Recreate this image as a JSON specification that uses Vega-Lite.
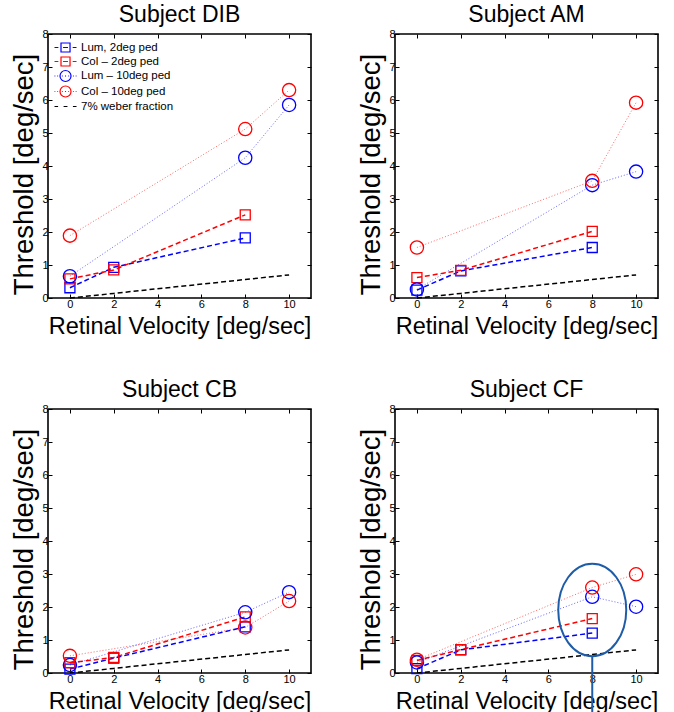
{
"$schema": "https://vega.github.io/schema/vega-lite/v6.json",
"background": "white",
"padding": {"left": 9, "top": 3, "right": 0, "bottom": 0},
"columns": 2,
"spacing": {"column": 84, "row": 111},
"bounds": "flush",
"config": {
  "font": "Liberation Sans",
  "view": {"stroke": "black", "strokeWidth": 1.6},
  "axis": {"grid": false, "domain": false, "tickColor": "black", "tickSize": -4, "tickWidth": 1, "labelFontSize": 11, "labelColor": "black", "labelFont": "Liberation Sans", "titleFont": "Liberation Sans", "titleFontWeight": "normal", "titleColor": "black", "labelPadding": 4},
  "title": {"fontSize": 23, "fontWeight": "normal", "font": "Liberation Sans", "color": "black", "offset": 1},
  "legend": {"labelFontSize": 11.5, "labelColor": "black", "labelFont": "Liberation Sans"}
},
"datasets": {
  "pts": [
    {"subject": "DIB", "series": "Lum, 2deg ped", "v": 0, "t": 0.31},
    {"subject": "DIB", "series": "Lum, 2deg ped", "v": 2, "t": 0.93},
    {"subject": "DIB", "series": "Lum, 2deg ped", "v": 8, "t": 1.82},
    {"subject": "DIB", "series": "Col – 2deg ped", "v": 0, "t": 0.58},
    {"subject": "DIB", "series": "Col – 2deg ped", "v": 2, "t": 0.85},
    {"subject": "DIB", "series": "Col – 2deg ped", "v": 8, "t": 2.52},
    {"subject": "DIB", "series": "Lum – 10deg ped", "v": 0, "t": 0.66},
    {"subject": "DIB", "series": "Lum – 10deg ped", "v": 8, "t": 4.25},
    {"subject": "DIB", "series": "Lum – 10deg ped", "v": 10, "t": 5.85},
    {"subject": "DIB", "series": "Col – 10deg ped", "v": 0, "t": 1.89},
    {"subject": "DIB", "series": "Col – 10deg ped", "v": 8, "t": 5.12},
    {"subject": "DIB", "series": "Col – 10deg ped", "v": 10, "t": 6.3},
    {"subject": "DIB", "series": "7% weber fraction", "v": 0, "t": 0},
    {"subject": "DIB", "series": "7% weber fraction", "v": 2, "t": 0.14},
    {"subject": "DIB", "series": "7% weber fraction", "v": 8, "t": 0.56},
    {"subject": "DIB", "series": "7% weber fraction", "v": 10, "t": 0.7},
    {"subject": "AM", "series": "Lum, 2deg ped", "v": 0, "t": 0.24},
    {"subject": "AM", "series": "Lum, 2deg ped", "v": 2, "t": 0.82},
    {"subject": "AM", "series": "Lum, 2deg ped", "v": 8, "t": 1.53},
    {"subject": "AM", "series": "Col – 2deg ped", "v": 0, "t": 0.62},
    {"subject": "AM", "series": "Col – 2deg ped", "v": 2, "t": 0.84},
    {"subject": "AM", "series": "Col – 2deg ped", "v": 8, "t": 2.02},
    {"subject": "AM", "series": "Lum – 10deg ped", "v": 0, "t": 0.26},
    {"subject": "AM", "series": "Lum – 10deg ped", "v": 8, "t": 3.42},
    {"subject": "AM", "series": "Lum – 10deg ped", "v": 10, "t": 3.83},
    {"subject": "AM", "series": "Col – 10deg ped", "v": 0, "t": 1.53},
    {"subject": "AM", "series": "Col – 10deg ped", "v": 8, "t": 3.55},
    {"subject": "AM", "series": "Col – 10deg ped", "v": 10, "t": 5.92},
    {"subject": "AM", "series": "7% weber fraction", "v": 0, "t": 0},
    {"subject": "AM", "series": "7% weber fraction", "v": 2, "t": 0.14},
    {"subject": "AM", "series": "7% weber fraction", "v": 8, "t": 0.56},
    {"subject": "AM", "series": "7% weber fraction", "v": 10, "t": 0.7},
    {"subject": "CB", "series": "Lum, 2deg ped", "v": 0, "t": 0.12},
    {"subject": "CB", "series": "Lum, 2deg ped", "v": 2, "t": 0.45},
    {"subject": "CB", "series": "Lum, 2deg ped", "v": 8, "t": 1.4},
    {"subject": "CB", "series": "Col – 2deg ped", "v": 0, "t": 0.31},
    {"subject": "CB", "series": "Col – 2deg ped", "v": 2, "t": 0.47},
    {"subject": "CB", "series": "Col – 2deg ped", "v": 8, "t": 1.7},
    {"subject": "CB", "series": "Lum – 10deg ped", "v": 0, "t": 0.24},
    {"subject": "CB", "series": "Lum – 10deg ped", "v": 8, "t": 1.84},
    {"subject": "CB", "series": "Lum – 10deg ped", "v": 10, "t": 2.45},
    {"subject": "CB", "series": "Col – 10deg ped", "v": 0, "t": 0.52},
    {"subject": "CB", "series": "Col – 10deg ped", "v": 8, "t": 1.38},
    {"subject": "CB", "series": "Col – 10deg ped", "v": 10, "t": 2.18},
    {"subject": "CB", "series": "7% weber fraction", "v": 0, "t": 0},
    {"subject": "CB", "series": "7% weber fraction", "v": 2, "t": 0.14},
    {"subject": "CB", "series": "7% weber fraction", "v": 8, "t": 0.56},
    {"subject": "CB", "series": "7% weber fraction", "v": 10, "t": 0.7},
    {"subject": "CF", "series": "Lum, 2deg ped", "v": 0, "t": 0.13},
    {"subject": "CF", "series": "Lum, 2deg ped", "v": 2, "t": 0.7},
    {"subject": "CF", "series": "Lum, 2deg ped", "v": 8, "t": 1.21},
    {"subject": "CF", "series": "Col – 2deg ped", "v": 0, "t": 0.38},
    {"subject": "CF", "series": "Col – 2deg ped", "v": 2, "t": 0.71},
    {"subject": "CF", "series": "Col – 2deg ped", "v": 8, "t": 1.65},
    {"subject": "CF", "series": "Lum – 10deg ped", "v": 0, "t": 0.32},
    {"subject": "CF", "series": "Lum – 10deg ped", "v": 8, "t": 2.31},
    {"subject": "CF", "series": "Lum – 10deg ped", "v": 10, "t": 2.01},
    {"subject": "CF", "series": "Col – 10deg ped", "v": 0, "t": 0.4},
    {"subject": "CF", "series": "Col – 10deg ped", "v": 8, "t": 2.59},
    {"subject": "CF", "series": "Col – 10deg ped", "v": 10, "t": 2.99},
    {"subject": "CF", "series": "7% weber fraction", "v": 0, "t": 0},
    {"subject": "CF", "series": "7% weber fraction", "v": 2, "t": 0.14},
    {"subject": "CF", "series": "7% weber fraction", "v": 8, "t": 0.56},
    {"subject": "CF", "series": "7% weber fraction", "v": 10, "t": 0.7}
  ],
  "note": [{"v": 8, "t": 1.91, "t2": 0.52, "t3": -1.4}]
},
"concat": [
  {
    "width": 263, "height": 264,
    "title": "Subject DIB",
    "data": {"name": "pts"},
    "resolve": {"axis": {"x": "independent", "y": "independent"}},
    "layer": [
      {"transform": [{"filter": "datum.subject === 'DIB' && test(/2deg|weber/, datum.series)"}],
       "mark": {"type": "line", "strokeDash": [5, 3], "strokeWidth": 1.5, "clip": false},
       "encoding": {
         "x": {"field": "v", "type": "quantitative", "scale": {"domain": [-1, 11], "nice": false, "zero": false}, "axis": {"values": [0, 2, 4, 6, 8, 10], "title": "Retinal Velocity [deg/sec]", "titleFontSize": 23.5, "titleBaseline": "alphabetic", "titleY": 35}},
         "y": {"field": "t", "type": "quantitative", "scale": {"domain": [0, 8], "nice": false, "zero": false}, "axis": {"values": [0, 1, 2, 3, 4, 5, 6, 7, 8], "title": "Threshold [deg/sec]", "titleFontSize": 27.5, "titleBaseline": "alphabetic", "titleX": -16, "titleY": 140}},
         "color": {"field": "series", "type": "nominal", "scale": {"domain": ["Lum – 10deg ped", "Col – 10deg ped", "Lum, 2deg ped", "Col – 2deg ped", "7% weber fraction"], "range": ["#0000ff", "#ff0000", "#0000ff", "#ff0000", "#000000"]}, "legend": null}}},
      {"transform": [{"filter": "datum.subject === 'DIB' && test(/10deg/, datum.series)"}],
       "mark": {"type": "line", "strokeDash": [1, 2], "strokeWidth": 1, "opacity": 0.6, "clip": false},
       "encoding": {
         "x": {"field": "v", "type": "quantitative", "scale": {"domain": [-1, 11], "nice": false, "zero": false}, "axis": null},
         "y": {"field": "t", "type": "quantitative", "scale": {"domain": [0, 8], "nice": false, "zero": false}, "axis": null},
         "color": {"field": "series", "type": "nominal", "scale": {"domain": ["Lum – 10deg ped", "Col – 10deg ped", "Lum, 2deg ped", "Col – 2deg ped", "7% weber fraction"], "range": ["#0000ff", "#ff0000", "#0000ff", "#ff0000", "#000000"]}, "legend": null}}},
      {"transform": [{"filter": "datum.subject === 'DIB' && test(/2deg/, datum.series)"}],
       "mark": {"type": "point", "shape": "square", "size": 100, "filled": false, "strokeWidth": 1.3, "opacity": 1, "clip": false},
       "encoding": {
         "x": {"field": "v", "type": "quantitative", "scale": {"domain": [-1, 11], "nice": false, "zero": false}, "axis": null},
         "y": {"field": "t", "type": "quantitative", "scale": {"domain": [0, 8], "nice": false, "zero": false}, "axis": null},
         "color": {"field": "series", "type": "nominal", "scale": {"domain": ["Lum – 10deg ped", "Col – 10deg ped", "Lum, 2deg ped", "Col – 2deg ped", "7% weber fraction"], "range": ["#0000ff", "#ff0000", "#0000ff", "#ff0000", "#000000"]}, "legend": null}}},
      {"transform": [{"filter": "datum.subject === 'DIB' && test(/10deg/, datum.series)"}],
       "mark": {"type": "point", "shape": "circle", "size": 175, "filled": false, "strokeWidth": 1.3, "opacity": 1, "clip": false},
       "encoding": {
         "x": {"field": "v", "type": "quantitative", "scale": {"domain": [-1, 11], "nice": false, "zero": false}, "axis": {"orient": "top", "values": [0, 2, 4, 6, 8, 10], "labels": false, "title": null}},
         "y": {"field": "t", "type": "quantitative", "scale": {"domain": [0, 8], "nice": false, "zero": false}, "axis": {"orient": "right", "values": [0, 1, 2, 3, 4, 5, 6, 7, 8], "labels": false, "title": null}},
         "color": {"field": "series", "type": "nominal", "scale": {"domain": ["Lum – 10deg ped", "Col – 10deg ped", "Lum, 2deg ped", "Col – 2deg ped", "7% weber fraction"], "range": ["#0000ff", "#ff0000", "#0000ff", "#ff0000", "#000000"]}, "legend": null}}},
      {"transform": [{"filter": "datum.subject === 'DIB'"}],
       "mark": {"type": "point", "filled": false, "strokeWidth": 1.2, "strokeOpacity": 0},
       "encoding": {
         "x": {"field": "v", "type": "quantitative", "scale": {"domain": [-1, 11], "nice": false, "zero": false}, "axis": null},
         "y": {"field": "t", "type": "quantitative", "scale": {"domain": [0, 8], "nice": false, "zero": false}, "axis": null},
         "shape": {"field": "series", "type": "nominal", "scale": {"domain": ["Lum, 2deg ped", "Col – 2deg ped", "Lum – 10deg ped", "Col – 10deg ped", "7% weber fraction"], "range": [
            "M-1.27,0L-0.57,0M0.28,0L1.18,0M2.03,0L2.73,0M-0.09,-0.82L1.55,-0.82L1.55,0.82L-0.09,0.82Z",
            "M-1.27,0L-0.57,0M0.28,0L1.18,0M2.03,0L2.73,0M-0.09,-0.82L1.55,-0.82L1.55,0.82L-0.09,0.82Z",
            "M-1.27,0L-1.12,0M-0.77,0L-0.62,0M0.08,0L0.23,0M0.63,0L0.83,0M1.23,0L1.38,0M2.08,0L2.23,0M2.58,0L2.73,0M-0.27,0A1,1 0 1,0 1.73,0A1,1 0 1,0 -0.27,0",
            "M-1.27,0L-1.12,0M-0.77,0L-0.62,0M0.08,0L0.23,0M0.63,0L0.83,0M1.23,0L1.38,0M2.08,0L2.23,0M2.58,0L2.73,0M-0.27,0A1,1 0 1,0 1.73,0A1,1 0 1,0 -0.27,0",
            "M-1.27,0L-0.62,0M0.38,0L1.08,0M2.08,0L2.73,0"]},
           "legend": {"title": null, "orient": "top-left", "offset": 7, "symbolSize": 121, "symbolStrokeWidth": 1.2, "symbolOpacity": 1, "labelOffset": 13, "rowPadding": -1.5}},
         "stroke": {"field": "series", "type": "nominal", "scale": {"domain": ["Lum, 2deg ped", "Col – 2deg ped", "Lum – 10deg ped", "Col – 10deg ped", "7% weber fraction"], "range": ["#0000ff", "#ff0000", "#0000ff", "#ff0000", "#000000"]}}}}
    ]
  },
  {
    "width": 263, "height": 264,
    "title": "Subject AM",
    "data": {"name": "pts"},
    "resolve": {"axis": {"x": "independent", "y": "independent"}},
    "layer": [
      {"transform": [{"filter": "datum.subject === 'AM' && test(/2deg|weber/, datum.series)"}],
       "mark": {"type": "line", "strokeDash": [5, 3], "strokeWidth": 1.5, "clip": false},
       "encoding": {
         "x": {"field": "v", "type": "quantitative", "scale": {"domain": [-1, 11], "nice": false, "zero": false}, "axis": {"values": [0, 2, 4, 6, 8, 10], "title": "Retinal Velocity [deg/sec]", "titleFontSize": 23.5, "titleBaseline": "alphabetic", "titleY": 35}},
         "y": {"field": "t", "type": "quantitative", "scale": {"domain": [0, 8], "nice": false, "zero": false}, "axis": {"values": [0, 1, 2, 3, 4, 5, 6, 7, 8], "title": "Threshold [deg/sec]", "titleFontSize": 27.5, "titleBaseline": "alphabetic", "titleX": -16, "titleY": 140}},
         "color": {"field": "series", "type": "nominal", "scale": {"domain": ["Lum – 10deg ped", "Col – 10deg ped", "Lum, 2deg ped", "Col – 2deg ped", "7% weber fraction"], "range": ["#0000ff", "#ff0000", "#0000ff", "#ff0000", "#000000"]}, "legend": null}}},
      {"transform": [{"filter": "datum.subject === 'AM' && test(/10deg/, datum.series)"}],
       "mark": {"type": "line", "strokeDash": [1, 2], "strokeWidth": 1, "opacity": 0.6, "clip": false},
       "encoding": {
         "x": {"field": "v", "type": "quantitative", "scale": {"domain": [-1, 11], "nice": false, "zero": false}, "axis": null},
         "y": {"field": "t", "type": "quantitative", "scale": {"domain": [0, 8], "nice": false, "zero": false}, "axis": null},
         "color": {"field": "series", "type": "nominal", "scale": {"domain": ["Lum – 10deg ped", "Col – 10deg ped", "Lum, 2deg ped", "Col – 2deg ped", "7% weber fraction"], "range": ["#0000ff", "#ff0000", "#0000ff", "#ff0000", "#000000"]}, "legend": null}}},
      {"transform": [{"filter": "datum.subject === 'AM' && test(/2deg/, datum.series)"}],
       "mark": {"type": "point", "shape": "square", "size": 100, "filled": false, "strokeWidth": 1.3, "opacity": 1, "clip": false},
       "encoding": {
         "x": {"field": "v", "type": "quantitative", "scale": {"domain": [-1, 11], "nice": false, "zero": false}, "axis": null},
         "y": {"field": "t", "type": "quantitative", "scale": {"domain": [0, 8], "nice": false, "zero": false}, "axis": null},
         "color": {"field": "series", "type": "nominal", "scale": {"domain": ["Lum – 10deg ped", "Col – 10deg ped", "Lum, 2deg ped", "Col – 2deg ped", "7% weber fraction"], "range": ["#0000ff", "#ff0000", "#0000ff", "#ff0000", "#000000"]}, "legend": null}}},
      {"transform": [{"filter": "datum.subject === 'AM' && test(/10deg/, datum.series)"}],
       "mark": {"type": "point", "shape": "circle", "size": 175, "filled": false, "strokeWidth": 1.3, "opacity": 1, "clip": false},
       "encoding": {
         "x": {"field": "v", "type": "quantitative", "scale": {"domain": [-1, 11], "nice": false, "zero": false}, "axis": {"orient": "top", "values": [0, 2, 4, 6, 8, 10], "labels": false, "title": null}},
         "y": {"field": "t", "type": "quantitative", "scale": {"domain": [0, 8], "nice": false, "zero": false}, "axis": {"orient": "right", "values": [0, 1, 2, 3, 4, 5, 6, 7, 8], "labels": false, "title": null}},
         "color": {"field": "series", "type": "nominal", "scale": {"domain": ["Lum – 10deg ped", "Col – 10deg ped", "Lum, 2deg ped", "Col – 2deg ped", "7% weber fraction"], "range": ["#0000ff", "#ff0000", "#0000ff", "#ff0000", "#000000"]}, "legend": null}}}
    ]
  },
  {
    "width": 263, "height": 264,
    "title": "Subject CB",
    "data": {"name": "pts"},
    "resolve": {"axis": {"x": "independent", "y": "independent"}},
    "layer": [
      {"transform": [{"filter": "datum.subject === 'CB' && test(/2deg|weber/, datum.series)"}],
       "mark": {"type": "line", "strokeDash": [5, 3], "strokeWidth": 1.5, "clip": false},
       "encoding": {
         "x": {"field": "v", "type": "quantitative", "scale": {"domain": [-1, 11], "nice": false, "zero": false}, "axis": {"values": [0, 2, 4, 6, 8, 10], "title": "Retinal Velocity [deg/sec]", "titleFontSize": 23.5, "titleBaseline": "alphabetic", "titleY": 35}},
         "y": {"field": "t", "type": "quantitative", "scale": {"domain": [0, 8], "nice": false, "zero": false}, "axis": {"values": [0, 1, 2, 3, 4, 5, 6, 7, 8], "title": "Threshold [deg/sec]", "titleFontSize": 27.5, "titleBaseline": "alphabetic", "titleX": -16, "titleY": 140}},
         "color": {"field": "series", "type": "nominal", "scale": {"domain": ["Lum – 10deg ped", "Col – 10deg ped", "Lum, 2deg ped", "Col – 2deg ped", "7% weber fraction"], "range": ["#0000ff", "#ff0000", "#0000ff", "#ff0000", "#000000"]}, "legend": null}}},
      {"transform": [{"filter": "datum.subject === 'CB' && test(/10deg/, datum.series)"}],
       "mark": {"type": "line", "strokeDash": [1, 2], "strokeWidth": 1, "opacity": 0.6, "clip": false},
       "encoding": {
         "x": {"field": "v", "type": "quantitative", "scale": {"domain": [-1, 11], "nice": false, "zero": false}, "axis": null},
         "y": {"field": "t", "type": "quantitative", "scale": {"domain": [0, 8], "nice": false, "zero": false}, "axis": null},
         "color": {"field": "series", "type": "nominal", "scale": {"domain": ["Lum – 10deg ped", "Col – 10deg ped", "Lum, 2deg ped", "Col – 2deg ped", "7% weber fraction"], "range": ["#0000ff", "#ff0000", "#0000ff", "#ff0000", "#000000"]}, "legend": null}}},
      {"transform": [{"filter": "datum.subject === 'CB' && test(/2deg/, datum.series)"}],
       "mark": {"type": "point", "shape": "square", "size": 100, "filled": false, "strokeWidth": 1.3, "opacity": 1, "clip": false},
       "encoding": {
         "x": {"field": "v", "type": "quantitative", "scale": {"domain": [-1, 11], "nice": false, "zero": false}, "axis": null},
         "y": {"field": "t", "type": "quantitative", "scale": {"domain": [0, 8], "nice": false, "zero": false}, "axis": null},
         "color": {"field": "series", "type": "nominal", "scale": {"domain": ["Lum – 10deg ped", "Col – 10deg ped", "Lum, 2deg ped", "Col – 2deg ped", "7% weber fraction"], "range": ["#0000ff", "#ff0000", "#0000ff", "#ff0000", "#000000"]}, "legend": null}}},
      {"transform": [{"filter": "datum.subject === 'CB' && test(/10deg/, datum.series)"}],
       "mark": {"type": "point", "shape": "circle", "size": 175, "filled": false, "strokeWidth": 1.3, "opacity": 1, "clip": false},
       "encoding": {
         "x": {"field": "v", "type": "quantitative", "scale": {"domain": [-1, 11], "nice": false, "zero": false}, "axis": {"orient": "top", "values": [0, 2, 4, 6, 8, 10], "labels": false, "title": null}},
         "y": {"field": "t", "type": "quantitative", "scale": {"domain": [0, 8], "nice": false, "zero": false}, "axis": {"orient": "right", "values": [0, 1, 2, 3, 4, 5, 6, 7, 8], "labels": false, "title": null}},
         "color": {"field": "series", "type": "nominal", "scale": {"domain": ["Lum – 10deg ped", "Col – 10deg ped", "Lum, 2deg ped", "Col – 2deg ped", "7% weber fraction"], "range": ["#0000ff", "#ff0000", "#0000ff", "#ff0000", "#000000"]}, "legend": null}}}
    ]
  },
  {
    "width": 263, "height": 264,
    "title": "Subject CF",
    "data": {"name": "pts"},
    "resolve": {"axis": {"x": "independent", "y": "independent"}},
    "layer": [
      {"transform": [{"filter": "datum.subject === 'CF' && test(/2deg|weber/, datum.series)"}],
       "mark": {"type": "line", "strokeDash": [5, 3], "strokeWidth": 1.5, "clip": false},
       "encoding": {
         "x": {"field": "v", "type": "quantitative", "scale": {"domain": [-1, 11], "nice": false, "zero": false}, "axis": {"values": [0, 2, 4, 6, 8, 10], "title": "Retinal Velocity [deg/sec]", "titleFontSize": 23.5, "titleBaseline": "alphabetic", "titleY": 35}},
         "y": {"field": "t", "type": "quantitative", "scale": {"domain": [0, 8], "nice": false, "zero": false}, "axis": {"values": [0, 1, 2, 3, 4, 5, 6, 7, 8], "title": "Threshold [deg/sec]", "titleFontSize": 27.5, "titleBaseline": "alphabetic", "titleX": -16, "titleY": 140}},
         "color": {"field": "series", "type": "nominal", "scale": {"domain": ["Lum – 10deg ped", "Col – 10deg ped", "Lum, 2deg ped", "Col – 2deg ped", "7% weber fraction"], "range": ["#0000ff", "#ff0000", "#0000ff", "#ff0000", "#000000"]}, "legend": null}}},
      {"transform": [{"filter": "datum.subject === 'CF' && test(/10deg/, datum.series)"}],
       "mark": {"type": "line", "strokeDash": [1, 2], "strokeWidth": 1, "opacity": 0.6, "clip": false},
       "encoding": {
         "x": {"field": "v", "type": "quantitative", "scale": {"domain": [-1, 11], "nice": false, "zero": false}, "axis": null},
         "y": {"field": "t", "type": "quantitative", "scale": {"domain": [0, 8], "nice": false, "zero": false}, "axis": null},
         "color": {"field": "series", "type": "nominal", "scale": {"domain": ["Lum – 10deg ped", "Col – 10deg ped", "Lum, 2deg ped", "Col – 2deg ped", "7% weber fraction"], "range": ["#0000ff", "#ff0000", "#0000ff", "#ff0000", "#000000"]}, "legend": null}}},
      {"transform": [{"filter": "datum.subject === 'CF' && test(/2deg/, datum.series)"}],
       "mark": {"type": "point", "shape": "square", "size": 100, "filled": false, "strokeWidth": 1.3, "opacity": 1, "clip": false},
       "encoding": {
         "x": {"field": "v", "type": "quantitative", "scale": {"domain": [-1, 11], "nice": false, "zero": false}, "axis": null},
         "y": {"field": "t", "type": "quantitative", "scale": {"domain": [0, 8], "nice": false, "zero": false}, "axis": null},
         "color": {"field": "series", "type": "nominal", "scale": {"domain": ["Lum – 10deg ped", "Col – 10deg ped", "Lum, 2deg ped", "Col – 2deg ped", "7% weber fraction"], "range": ["#0000ff", "#ff0000", "#0000ff", "#ff0000", "#000000"]}, "legend": null}}},
      {"transform": [{"filter": "datum.subject === 'CF' && test(/10deg/, datum.series)"}],
       "mark": {"type": "point", "shape": "circle", "size": 175, "filled": false, "strokeWidth": 1.3, "opacity": 1, "clip": false},
       "encoding": {
         "x": {"field": "v", "type": "quantitative", "scale": {"domain": [-1, 11], "nice": false, "zero": false}, "axis": {"orient": "top", "values": [0, 2, 4, 6, 8, 10], "labels": false, "title": null}},
         "y": {"field": "t", "type": "quantitative", "scale": {"domain": [0, 8], "nice": false, "zero": false}, "axis": {"orient": "right", "values": [0, 1, 2, 3, 4, 5, 6, 7, 8], "labels": false, "title": null}},
         "color": {"field": "series", "type": "nominal", "scale": {"domain": ["Lum – 10deg ped", "Col – 10deg ped", "Lum, 2deg ped", "Col – 2deg ped", "7% weber fraction"], "range": ["#0000ff", "#ff0000", "#0000ff", "#ff0000", "#000000"]}, "legend": null}}},
      {"data": {"name": "note"},
       "mark": {"type": "point", "shape": "M-1,0A1,1.36 0 1,0 1,0A1,1.36 0 1,0 -1,0", "size": 4624, "filled": false, "stroke": "#1f5ca8", "strokeWidth": 2, "opacity": 1, "clip": false},
       "encoding": {
         "x": {"field": "v", "type": "quantitative", "scale": {"domain": [-1, 11], "nice": false, "zero": false}, "axis": null},
         "y": {"field": "t", "type": "quantitative", "scale": {"domain": [0, 8], "nice": false, "zero": false}, "axis": null}}},
      {"data": {"name": "note"},
       "mark": {"type": "rule", "stroke": "#1f5ca8", "strokeWidth": 2, "clip": false},
       "encoding": {
         "x": {"field": "v", "type": "quantitative", "scale": {"domain": [-1, 11], "nice": false, "zero": false}, "axis": null},
         "y": {"field": "t2", "type": "quantitative", "scale": {"domain": [0, 8], "nice": false, "zero": false}, "axis": null},
         "y2": {"field": "t3"}}}
    ]
  }
]
}
